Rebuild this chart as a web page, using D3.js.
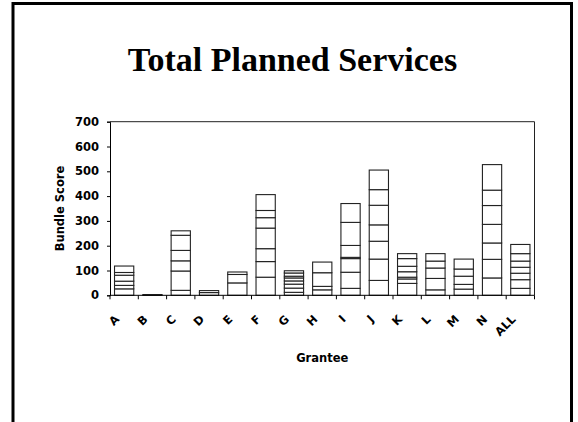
<!DOCTYPE html>
<html><head><meta charset="utf-8">
<script src="https://cdn.jsdelivr.net/npm/d3@7"></script>
<style>
html,body{margin:0;padding:0;background:#fff;}
svg{display:block;}
</style></head>
<body>
<svg id="chart" width="578" height="422"></svg>
<script>
const categories = ["A","B","C","D","E","F","G","H","I","J","K","L","M","N","ALL"];
const seg1 = [26, 3, 20, 11, 50, 73, 12, 22, 28, 60, 48, 22, 25, 70, 28];
const seg2 = [14, 0, 78,  8, 34, 63, 17, 14, 65, 86, 18, 46, 19, 75, 35];
const seg3 = [17, 0, 41,  0, 10, 52, 16, 55, 55, 72,  7, 42, 33, 66, 26];
const seg4 = [24, 0, 42,  0,  0, 83, 13, 43,  5, 66, 22, 28, 29, 75, 24];
const seg5 = [11, 0, 61,  0,  0, 42, 12,  0, 48, 79, 22, 30, 40, 76, 25];
const seg6 = [26, 0, 18,  0,  0, 29,  7,  0, 93, 63, 31,  0,  0, 62, 30];
const seg7 = [ 0, 0,  0,  0,  0, 64, 13,  0, 76, 79, 20,  0,  0,103, 37];
const seg8 = [ 0, 0,  0,  0,  0,  0,  9,  0,  0,  0,  0,  0,  0,  0,  0];
const yTicks = [0,100,200,300,400,500,600,700];
const titleText = "Total Planned Services";
const yTitle = "Bundle Score";
const xTitle = "Grantee";

const series = [seg1,seg2,seg3,seg4,seg5,seg6,seg7,seg8];
const keys = series.map((_,i)=>"s"+i);
const rows = categories.map((c,j)=>{
  const r = {cat:c};
  series.forEach((s,i)=>r["s"+i]=s[j]);
  return r;
});
const stacked = d3.stack().keys(keys)(rows);

const svg = d3.select("#chart");
const L = 110, R = 534.5, T = 121.7, B = 295.3;

// slide frame
svg.append("rect").attr("x",13).attr("y",3.5).attr("width",558.5).attr("height",440)
  .attr("fill","none").attr("stroke","#000").attr("stroke-width",3);

svg.append("text").attr("x",292.5).attr("y",71).attr("text-anchor","middle")
  .attr("font-family","'Liberation Serif', 'Times New Roman', serif")
  .attr("font-weight","bold").attr("font-size",34).attr("fill","#000").text(titleText);

const x = d3.scaleBand().domain(categories).range([L,R]).paddingInner(0.32).paddingOuter(0.16);
const y = d3.scaleLinear().domain([0,700]).range([B,T]);

// plot border top/right
svg.append("line").attr("x1",L).attr("x2",R).attr("y1",T).attr("y2",T).attr("stroke","#222").attr("stroke-width",1);
svg.append("line").attr("x1",R).attr("x2",R).attr("y1",T).attr("y2",B).attr("stroke","#222").attr("stroke-width",1);

// bars
const g = svg.append("g");
stacked.forEach(layer=>{
  g.selectAll(null).data(layer.filter(d=>d[1]-d[0]>0)).enter().append("rect")
    .attr("x",d=>x(d.data.cat)).attr("width",x.bandwidth())
    .attr("y",d=>y(d[1])).attr("height",d=>y(d[0])-y(d[1]))
    .attr("fill","#fff").attr("stroke","#222").attr("stroke-width",1.1);
});

// y axis
const yAxis = d3.axisLeft(y).tickValues(yTicks).tickSize(3).tickPadding(8).tickFormat(d3.format("d"));
const ya = svg.append("g").attr("transform",`translate(${L},0)`).call(yAxis);
ya.select(".domain").attr("stroke","#000");
ya.selectAll("text").attr("font-family","'DejaVu Sans', sans-serif").attr("font-weight","bold")
  .attr("font-size",11.5).attr("fill","#000");

// x axis with ticks at band boundaries
const xa = svg.append("g").attr("transform",`translate(0,${B})`);
xa.append("line").attr("x1",L).attr("x2",R).attr("y1",0).attr("y2",0).attr("stroke","#000");
const step = x.step();
const bounds = categories.map(c=>x(c)-x.bandwidth()*0 - (step-x.bandwidth())/2).concat([R]);
xa.selectAll(".tk").data(bounds).enter().append("line")
  .attr("x1",d=>d).attr("x2",d=>d).attr("y1",0).attr("y2",4).attr("stroke","#000");
svg.selectAll(".xl").data(categories).enter().append("text")
  .attr("transform",d=>`translate(${x(d)+x.bandwidth()/2-4},320) rotate(-45)`)
  .attr("text-anchor","end")
  .attr("font-family","'DejaVu Sans', sans-serif").attr("font-weight","bold")
  .attr("font-size",11.5).attr("fill","#000").text(d=>d);

svg.append("text").attr("x",(L+R)/2).attr("y",362).attr("text-anchor","middle")
  .attr("font-family","'DejaVu Sans', sans-serif").attr("font-weight","bold")
  .attr("font-size",11.5).attr("fill","#000").text(xTitle);

svg.append("text").attr("transform",`translate(64,${(T+B)/2}) rotate(-90)`).attr("text-anchor","middle")
  .attr("font-family","'DejaVu Sans', sans-serif").attr("font-weight","bold")
  .attr("font-size",11.5).attr("fill","#000").text(yTitle);
</script>
</body></html>
